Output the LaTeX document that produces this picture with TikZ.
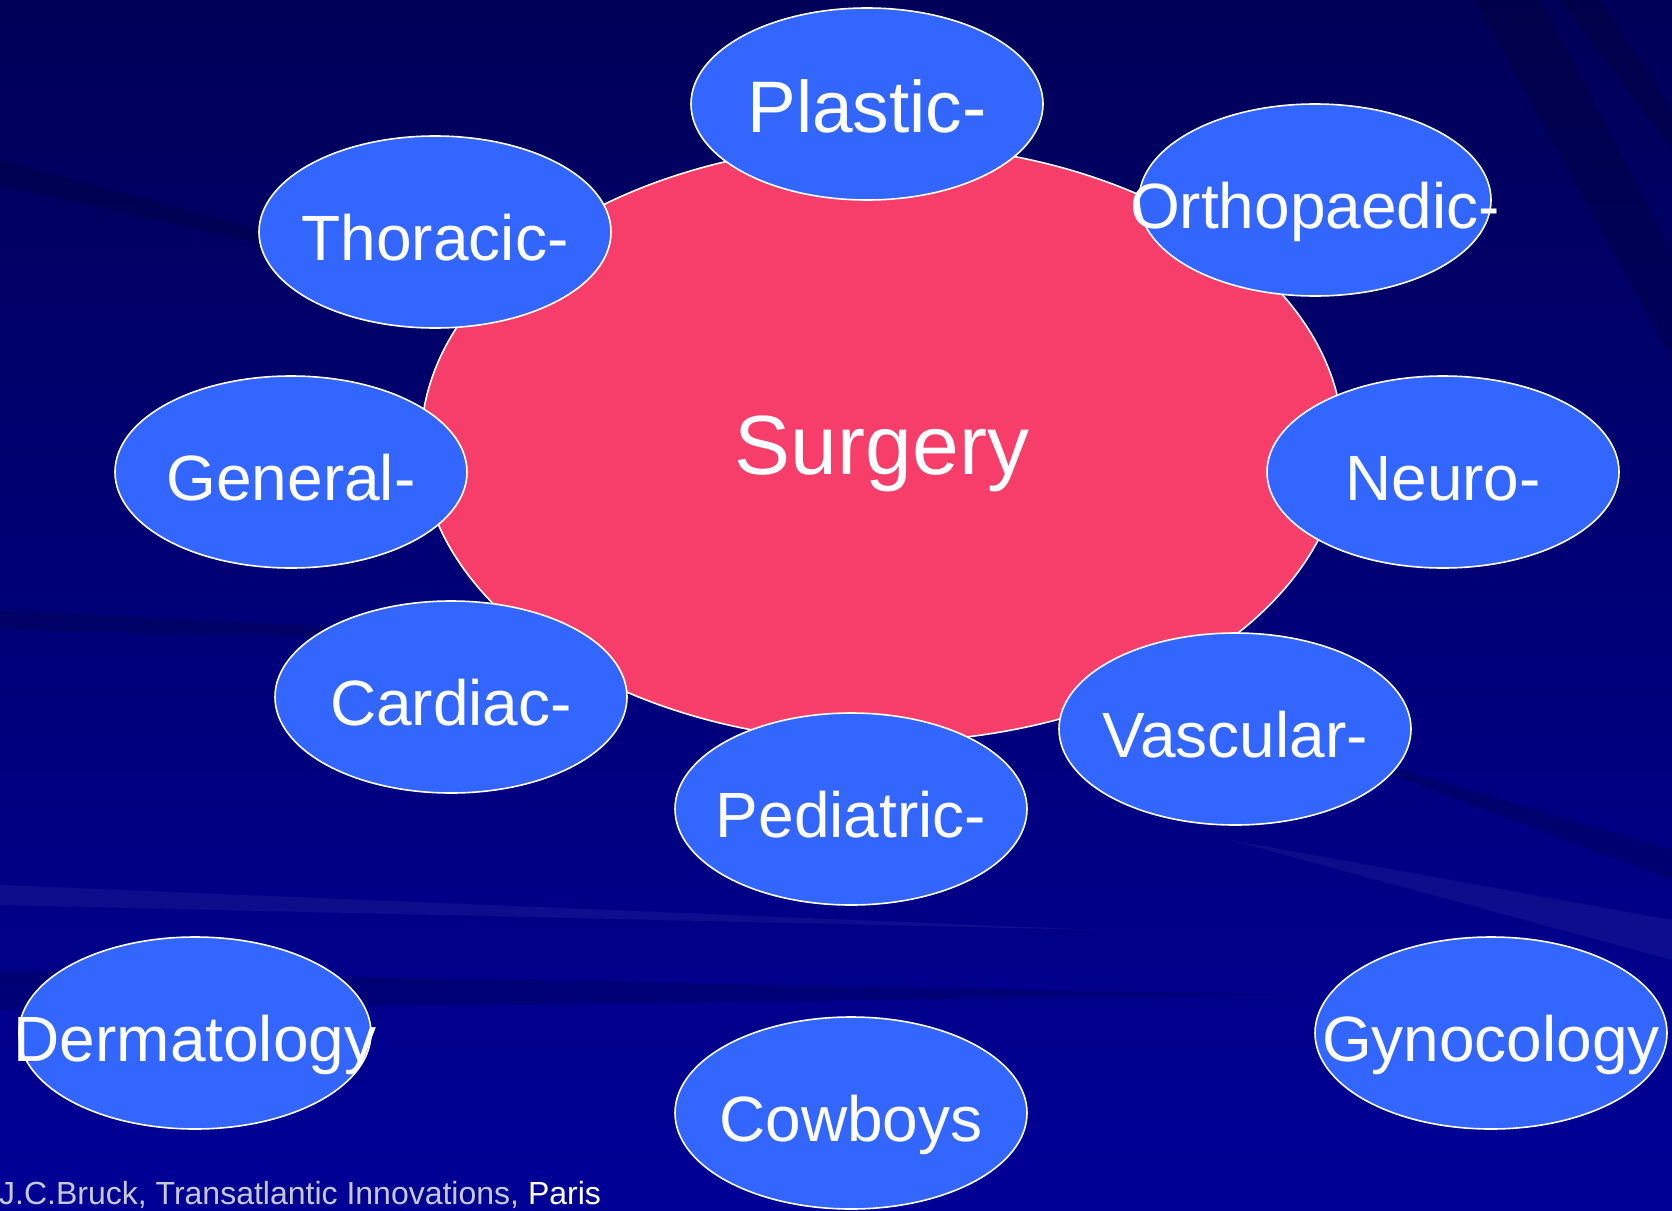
\documentclass[tikz,border=0pt]{standalone}
\usepackage{fontspec}
\setmainfont{Liberation Sans}
\usepackage{tikz}
\usetikzlibrary{shapes.geometric}
\usepackage{xcolor}
\definecolor{slidetop}{RGB}{0, 0, 88}
\definecolor{slidemid}{RGB}{0, 0, 140}
\definecolor{slidebase}{RGB}{0, 0, 150}
\definecolor{surgpink}{RGB}{247, 62, 106}
\definecolor{petalblue}{RGB}{51, 102, 255}
\definecolor{footgray}{RGB}{200, 200, 212}
\newcommand{\petaltext}[1]{\makebox[0pt]{#1}}

\begin{document}
\begin{tikzpicture}[x=1pt, y=-1pt,
  petal/.style={ellipse, fill=petalblue, draw=white, line width=1.6pt,
    minimum width=352pt, minimum height=192pt, inner sep=0pt,
    text=white, font=\fontsize{64}{70}\selectfont,
    text height=56pt, text depth=0pt},
  hub/.style={ellipse, fill=surgpink, draw=white, line width=1.6pt,
    minimum width=922pt, minimum height=598pt, inner sep=0pt,
    text=white, font=\fontsize{84}{90}\selectfont,
    text height=63pt, text depth=0pt},
  raydark/.style={fill=black, opacity=0.15},
  raylight/.style={fill=white, opacity=0.05}]
  % ── Background ──────────────────────────────────────────────────
\useasboundingbox (0,0) rectangle (1672,1210);
\shade[top color=slidetop, middle color=slidemid, bottom color=slidebase]
(0,0) rectangle (1672,1210);
\begin{scope}
	\clip (0,0) rectangle (1672,1210);
	\fill[raydark] (1475,0) -- (1540,0) -- (1672,250) -- (1672,360) -- cycle;
	\fill[raydark] (1560,0) -- (1600,0) -- (1672,110) -- (1672,150) -- cycle;
	\fill[raydark] (1300,740) -- (1672,850) -- (1672,880) -- cycle;
	\fill[raylight] (1230,840) -- (1672,920) -- (1672,960) -- cycle;
	\fill[raydark] (0,970) -- (1300,995) -- (0,1010) -- cycle;
	\fill[raydark] (0,610) -- (700,645) -- (0,630) -- cycle;
	\fill[raylight] (0,885) -- (1100,930) -- (0,905) -- cycle;
	\fill[raydark] (0,160) -- (600,320) -- (0,185) -- cycle;
\end{scope}

% ── Centre: Surgery ─────────────────────────────────────────────
\node[hub] (surgery) at (882,443) {Surgery};

% ── Ring of specialties ─────────────────────────────────────────
\node[petal, font=\fontsize{73}{78}\selectfont]
(plastic) at (867,104) {\petaltext{Plastic-}};
\node[petal] (thoracic)  at (435,232)  {\petaltext{Thoracic-}};
\node[petal] (ortho)     at (1315,200) {\petaltext{Orthopaedic-}};
\node[petal] (general)   at (291,472)  {\petaltext{General-}};
\node[petal] (neuro)     at (1443,472) {\petaltext{Neuro-}};
\node[petal] (cardiac)   at (451,697)  {\petaltext{Cardiac-}};
\node[petal] (vascular)  at (1235,729) {\petaltext{Vascular-}};
\node[petal] (pediatric) at (851,809)  {\petaltext{Pediatric-}};

% ── Outsiders ───────────────────────────────────────────────────
\node[petal] (dermatology) at (195,1033)  {\petaltext{Dermatology}};
\node[petal] (cowboys)     at (851,1113)  {\petaltext{Cowboys}};
\node[petal] (gynocology)  at (1491,1033) {\petaltext{Gynocology}};

% ── Footer ──────────────────────────────────────────────────────
\node[anchor=base west, inner sep=0pt, text=footgray,
font=\fontsize{32}{34}\selectfont] (footer) at (-1,1204)
{J.C.Bruck, Transatlantic Innovations, \textcolor{white}{Paris}};
\end{tikzpicture}
\end{document}
